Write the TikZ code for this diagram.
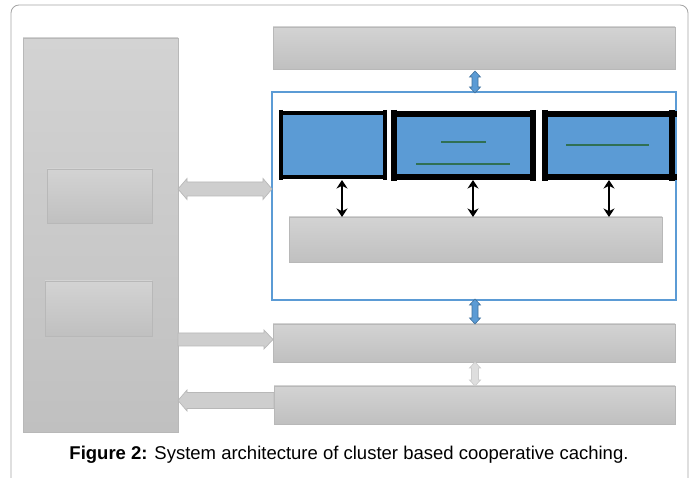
\documentclass[tikz,border=0pt]{standalone}
\usepackage{fontspec}
\setmainfont{Liberation Sans}
\usetikzlibrary{calc,arrows.meta}

\definecolor{boxtop}{RGB}{211,211,211}
\definecolor{boxbot}{RGB}{192,192,192}
\definecolor{boxline}{RGB}{184,184,184}
\definecolor{arrowfill}{RGB}{206,206,206}
\definecolor{faintfill}{RGB}{222,222,222}
\definecolor{faintline}{RGB}{205,205,205}
\definecolor{cellblue}{RGB}{91,155,213}
\definecolor{linkline}{RGB}{65,113,156}
\definecolor{framegray}{RGB}{165,165,165}
\definecolor{rulegreen}{RGB}{48,112,84}

% horizontal double block arrow: style, left tip, right tip, head half-width, shaft half-width, head length
\newcommand\hdblblock[6]{%
  \draw[#1] (#2) -- ($(#2)+(#6,-#4)$) -- ($(#2)+(#6,-#5)$) -- ($(#3)+(-#6,-#5)$)
    -- ($(#3)+(-#6,-#4)$) -- (#3) -- ($(#3)+(-#6,#4)$) -- ($(#3)+(-#6,#5)$)
    -- ($(#2)+(#6,#5)$) -- ($(#2)+(#6,#4)$) -- cycle;}
% horizontal single block arrow: style, tail, tip, head half-width, shaft half-width, signed head offset
\newcommand\hblock[6]{%
  \draw[#1] ($(#2)+(0,-#5)$) -- ($(#3)+(#6,-#5)$) -- ($(#3)+(#6,-#4)$) -- (#3)
    -- ($(#3)+(#6,#4)$) -- ($(#3)+(#6,#5)$) -- ($(#2)+(0,#5)$) -- cycle;}
% vertical double block arrow: style, top tip, bottom tip, head half-width, shaft half-width, head length
\newcommand\vdblblock[6]{%
  \draw[#1] (#2) -- ($(#2)+(#4,#6)$) -- ($(#2)+(#5,#6)$) -- ($(#3)+(#5,-#6)$)
    -- ($(#3)+(#4,-#6)$) -- (#3) -- ($(#3)+(-#4,-#6)$) -- ($(#3)+(-#5,-#6)$)
    -- ($(#2)+(-#5,#6)$) -- ($(#2)+(-#4,#6)$) -- cycle;}

\begin{document}
\begin{tikzpicture}[x=1pt,y=-1pt,
  graybox/.style={draw=boxline, line width=0.8pt, top color=boxtop, bottom color=boxbot,
    anchor=north west, inner sep=0pt, outer sep=0pt},
  clusterframe/.style={draw=cellblue, line width=1.4pt, anchor=north west, inner sep=0pt, outer sep=0pt},
  cachecell/.style={fill=cellblue, anchor=north west, inner sep=0pt, outer sep=0pt},
  grayarrow/.style={draw=boxline, line width=0.7pt, fill=arrowfill},
  faintarrow/.style={draw=faintline, line width=0.7pt, fill=faintfill},
  bluearrow/.style={draw=linkline, line width=0.6pt, fill=cellblue},
  blackarrow/.style={{Stealth[length=8.5pt,width=11pt]}-{Stealth[length=8.5pt,width=11pt]}, line width=2pt},
  textrule/.style={rulegreen, line width=1.2pt},
  caption/.style={font=\fontsize{18.5}{22}\selectfont, text=black, inner sep=0pt, anchor=base}]

\useasboundingbox (0,0) rectangle (694,478);
\fill[white] (0,0) rectangle (694,478);

% page frame, open at the bottom
\draw[framegray, line width=0.8pt, rounded corners=8pt] (11,478) -- (11,5) -- (688,5) -- (688,478);

% left block with its two inner boxes
\node[graybox, minimum width=155pt, minimum height=394pt] (left) at (23,38) {};
\node[graybox, minimum width=105pt, minimum height=54pt] (inA) at (47,169) {};
\node[graybox, minimum width=107pt, minimum height=55pt] (inB) at (45,281) {};

% right column
\node[graybox, minimum width=402pt, minimum height=42pt] (top) at (273,27) {};
\node[clusterframe, minimum width=404pt, minimum height=208pt] (frame) at (272,92) {};
\node[graybox, minimum width=373pt, minimum height=45pt] (cache) at (289,217) {};
\node[graybox, minimum width=402pt, minimum height=38pt] (mid) at (273,324) {};
\node[graybox, minimum width=401pt, minimum height=38pt] (bottom) at (274,386) {};

% cache cells
\node[cachecell, minimum width=104pt, minimum height=64pt] (c1) at (281,113) {};
\node[cachecell, minimum width=139pt, minimum height=63pt] (c2) at (394,114) {};
\node[cachecell, minimum width=127pt, minimum height=63pt] (c3) at (545,114) {};

\draw[line width=3.8pt] (c1.north west) -- (c1.north east) (c1.south west) -- (c1.south east);
\draw[line width=4.2pt] ([yshift=3pt]c1.north west) -- ([yshift=-3pt]c1.south west)
                        ([yshift=3pt]c1.north east) -- ([yshift=-3pt]c1.south east);
\draw[line width=5.2pt] (c2.north west) -- (c2.north east) (c2.south west) -- (c2.south east);
\draw[line width=5.8pt] ([yshift=4pt]c2.north west) -- ([yshift=-4pt]c2.south west)
                        ([yshift=4pt]c2.north east) -- ([yshift=-4pt]c2.south east);
\draw[line width=5.2pt] (c3.north west) -- ([xshift=5pt]c3.north east) (c3.south west) -- ([xshift=5pt]c3.south east);
\draw[line width=5.8pt] ([yshift=4pt]c3.north west) -- ([yshift=-4pt]c3.south west)
                        ([yshift=4pt]c3.north east) -- ([yshift=-4pt]c3.south east);

% rules inside the cells
\draw[textrule] (441,142) -- (486,142);
\draw[textrule] (416,164) -- (510,164);
\draw[textrule] (566,145) -- (649,145);

% links from the cells down to the cache box
\draw[blackarrow, shorten <=3pt] (c1.south -| 342,0) -- (cache.north -| 342,0);
\draw[blackarrow, shorten <=3pt] (c2.south -| 473,0) -- (cache.north -| 473,0);
\draw[blackarrow, shorten <=3pt] (c3.south -| 609,0) -- (cache.north -| 609,0);

% blue links along the right column
\coordinate (b1t) at ($(top.south -| 475,0)+(0,2)$);
\coordinate (b1b) at ($(frame.north -| 475,0)+(0,1)$);
\vdblblock{bluearrow}{b1t}{b1b}{5.5}{3}{6}
\coordinate (b2t) at ($(frame.south -| 475,0)+(0,-1)$);
\coordinate (b2b) at (mid.north -| 475,0);
\vdblblock{bluearrow}{b2t}{b2b}{5.5}{3}{6}
\coordinate (b3t) at (mid.south -| 475,0);
\coordinate (b3b) at (bottom.north -| 475,0);
\vdblblock{faintarrow}{b3t}{b3b}{5.5}{3.5}{6}

% block arrows between the left block and the right column
\coordinate (g1l) at (left.east |- 0,189);
\coordinate (g1r) at (frame.west |- 0,189);
\hdblblock{grayarrow}{g1l}{g1r}{10.5}{7}{9}
\coordinate (g2l) at (left.east |- 0,339.5);
\coordinate (g2r) at (mid.west |- 0,339.5);
\hblock{grayarrow}{g2l}{g2r}{9.5}{6.5}{-9}
\coordinate (g3r) at (bottom.west |- 0,400.5);
\coordinate (g3l) at (left.east |- 0,400.5);
\hblock{grayarrow}{g3r}{g3l}{10.5}{8}{9}

% caption
\node[caption] (cap) at (349,460) {\textbf{Figure 2:} System architecture of cluster based cooperative caching.};
\end{tikzpicture}
\end{document}
